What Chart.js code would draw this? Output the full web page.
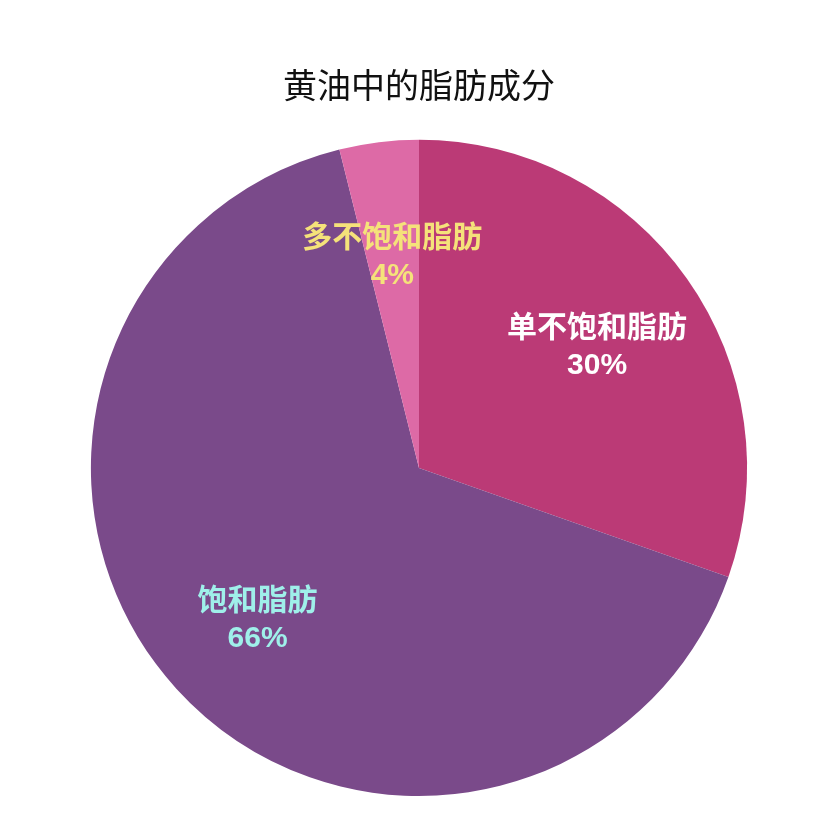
<!DOCTYPE html>
<html>
<head>
<meta charset="utf-8">
<script src="https://cdn.jsdelivr.net/npm/chart.js@4/dist/chart.umd.min.js"></script>
<style>
html,body{margin:0;padding:0;background:#fff;}
#wrap{width:824px;height:824px;}
</style>
</head>
<body>
<div id="wrap"><canvas id="c" width="824" height="824"></canvas></div>
<script>
const titleText = "黄油中的脂肪成分";
const categories = ["单不饱和脂肪", "饱和脂肪", "多不饱和脂肪"];
const values = [30.4, 65.7, 3.9];
const sliceColors = ["#bb3a76", "#7a4a8a", "#dd6aa6"];
const labelColors = ["#ffffff", "#9ff0ea", "#f5e27a"];

const FONT = "'Liberation Sans', 'Noto Sans CJK SC', sans-serif";

const sliceLabels = {
  id: 'sliceLabels',
  afterDatasetsDraw(chart) {
    const ctx = chart.ctx;
    const meta = chart.getDatasetMeta(0);
    const total = values.reduce((a, b) => a + b, 0);
    meta.data.forEach((arc, i) => {
      const p = arc.getProps(['x', 'y', 'startAngle', 'endAngle', 'outerRadius'], true);
      const mid = (p.startAngle + p.endAngle) / 2;
      const r = p.outerRadius * 0.665;
      const cx = p.x + Math.cos(mid) * r;
      const cy = p.y + Math.sin(mid) * r;
      ctx.save();
      ctx.fillStyle = labelColors[i];
      ctx.font = "bold 30px " + FONT;
      ctx.textAlign = 'center';
      ctx.textBaseline = 'middle';
      ctx.fillText(categories[i], cx, cy - 13);
      ctx.fillText(Math.round(values[i] / total * 100) + '%', cx, cy + 24);
      ctx.restore();
    });
  }
};

new Chart(document.getElementById('c'), {
  type: 'pie',
  data: {
    labels: categories,
    datasets: [{
      data: values,
      backgroundColor: sliceColors,
      borderWidth: 0
    }]
  },
  options: {
    responsive: false,
    animation: false,
    layout: { padding: { left: 14, right: 0, top: 0, bottom: 28 } },
    plugins: {
      legend: { display: false },
      tooltip: { enabled: false },
      title: {
        display: true,
        text: titleText,
        color: '#111111',
        font: { size: 34, weight: 'normal', family: FONT, lineHeight: 1.2 },
        padding: { top: 68, bottom: 31 }
      }
    }
  },
  plugins: [sliceLabels]
});
</script>
</body>
</html>
